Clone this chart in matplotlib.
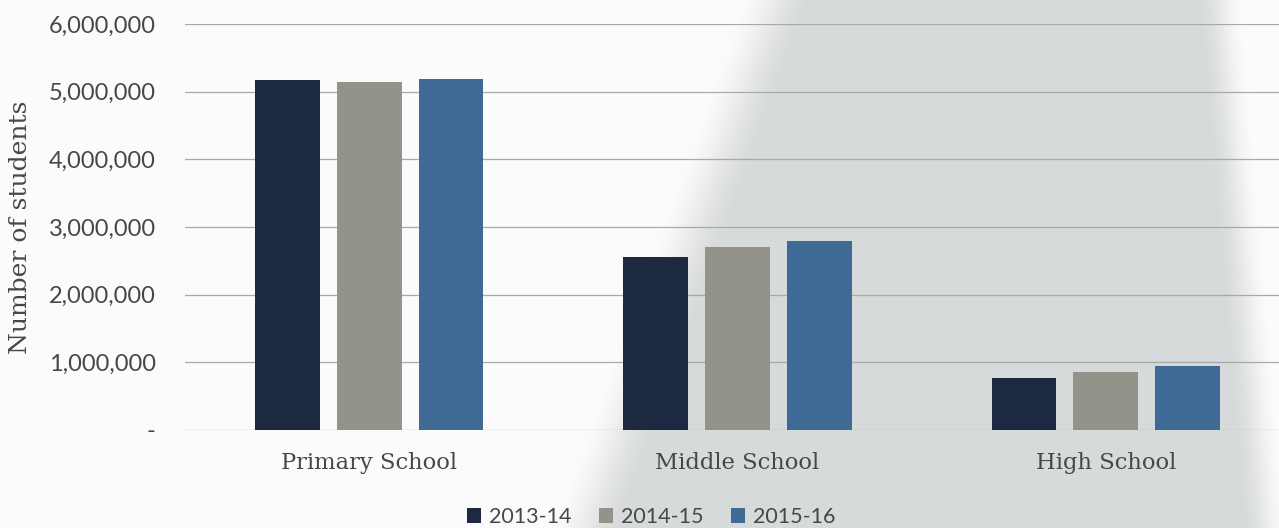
import numpy as np
import matplotlib
matplotlib.use("Agg")
import matplotlib.pyplot as plt
from matplotlib.ticker import FuncFormatter

categories = ["Primary School", "Middle School", "High School"]
years = ["2013-14", "2014-15", "2015-16"]
students_2013_14 = [5170000, 2560000, 770000]
students_2014_15 = [5140000, 2700000, 860000]
students_2015_16 = [5180000, 2790000, 950000]
series = [students_2013_14, students_2014_15, students_2015_16]
colors = ["#1c2940", "#939389", "#3f6a95"]
y_ticks = [0, 1000000, 2000000, 3000000, 4000000, 5000000, 6000000]

W, H, DPI = 1279, 528, 100
fig = plt.figure(figsize=(W / DPI, H / DPI), dpi=DPI, facecolor="#fbfcfc")

# paper shading behind the chart
bg = fig.add_axes([0, 0, 1, 1], zorder=-5)
bg.axis("off")
yy, xx = np.mgrid[0:H, 0:W].astype(float)
left_edge = 735 - (yy / H) * 190
right_edge = 1195 + (yy / H) * 45
def smooth(t):
    t = np.clip(t, 0, 1)
    return t * t * (3 - 2 * t)
shade = smooth((xx - left_edge) / 80) * (1 - smooth((xx - right_edge) / 50))
base = np.array([0.985, 0.988, 0.99])
band = np.array([0.845, 0.855, 0.855])
img = base[None, None, :] * (1 - shade[..., None]) + band[None, None, :] * shade[..., None]
bg.imshow(img, extent=[0, 1, 0, 1], aspect="auto", interpolation="bilinear")
bg.set_xlim(0, 1)
bg.set_ylim(0, 1)

ax = fig.add_axes([185 / W, (H - 430) / H, (1290 - 185) / W, (430 - 24) / H])
ax.patch.set_alpha(0)

x = np.arange(len(categories))
step = 0.222
width = 0.176
for i, (vals, col, lab) in enumerate(zip(series, colors, years)):
    ax.bar(x + (i - 1) * step, vals, width=width, color=col, label=lab, zorder=3)

ax.set_xlim(-0.5, 2.5)
ax.set_ylim(0, 6000000)
ax.set_yticks(y_ticks)
ax.yaxis.set_major_formatter(FuncFormatter(lambda v, p: "-" if v == 0 else f"{int(v):,}"))
ax.grid(axis="y", color="#a8aaaa", linewidth=0.9, zorder=0)
for s in ax.spines.values():
    s.set_visible(False)
ax.tick_params(axis="y", length=0, pad=21, labelsize=17, labelcolor="#474747")
ax.tick_params(axis="x", length=0, pad=16, labelsize=16.3, labelcolor="#474747")
for t in ax.get_yticklabels():
    t.set_fontfamily("Lato")
ax.set_xticks(x)
ax.set_xticklabels(categories, fontfamily="DejaVu Serif")
ax.set_ylabel("Number of students", fontfamily="DejaVu Serif", fontsize=18,
              color="#474747", labelpad=12)

handles, labels = ax.get_legend_handles_labels()
fig.legend(handles, labels, loc="center", bbox_to_anchor=(651 / W, 1 - 517 / H),
           ncol=3, frameon=False, prop={"family": "Lato", "size": 15.5},
           labelcolor="#474747", handlelength=0.65, handleheight=0.65,
           handletextpad=0.35, columnspacing=1.3, borderpad=0)

fig.savefig("out.png", dpi=DPI, facecolor=fig.get_facecolor())
